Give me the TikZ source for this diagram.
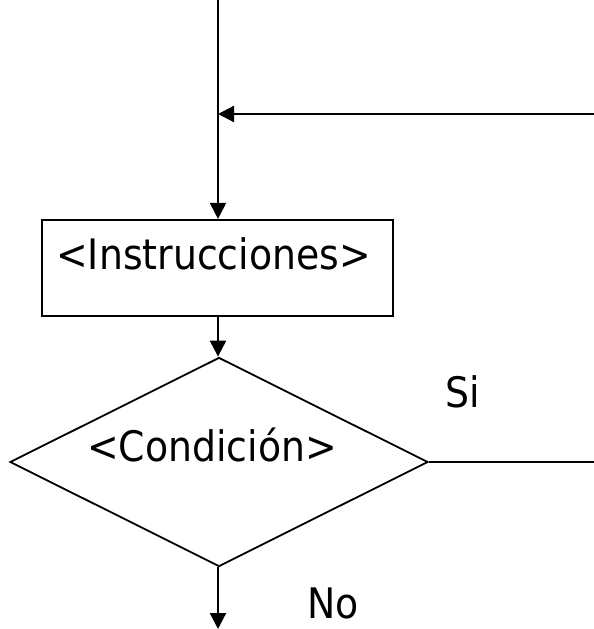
\documentclass[tikz,border=0pt]{standalone}
\usepackage{fontspec}
\setmainfont[FakeStretch=0.9]{DejaVu Sans}
\usetikzlibrary{arrows.meta,shapes.geometric}

\begin{document}
\begin{tikzpicture}[x=1pt,y=-1pt,
  every node/.style={font=\fontsize{42}{50}\selectfont},
  flow/.style={line width=2.2pt},
  arr/.style={flow,-{Triangle[length=16pt,width=16pt]}},
  stepbox/.style={draw,line width=2.2pt,rectangle,minimum width=351pt,minimum height=96pt,inner sep=0pt},
  decision/.style={draw,line width=1.8pt,diamond,aspect=2,minimum width=418pt,minimum height=209pt,inner sep=0pt}]
  \useasboundingbox (0,0) rectangle (594,629);

  % blocks
  \node[stepbox] (instr) at (217.5,268) {\raisebox{28pt}{<Instrucciones>\hspace{8pt}}};
  \node[decision] (cond) at (219,462) {\raisebox{34pt}{<Condición>\hspace{14pt}}};

  % branch labels
  \node (si) at (463,392) {Si};
  \node (no) at (333,603) {No};

  % free ends of the connectors
  \coordinate (entry) at (218,0);
  \coordinate (loopin) at (594,114);
  \coordinate (join) at (218,114);
  \coordinate (siout) at (594,462);
  \coordinate (exit) at (218,629);

  % connectors
  \draw[arr] (entry) -- (instr.north -| entry);
  \draw[arr] (loopin) -- (join);
  \draw[arr] (instr.south -| entry) -- (cond.north -| entry);
  \draw[flow] (cond.east) -- (siout);
  \draw[arr] (cond.south -| entry) -- (exit);
\end{tikzpicture}
\end{document}
